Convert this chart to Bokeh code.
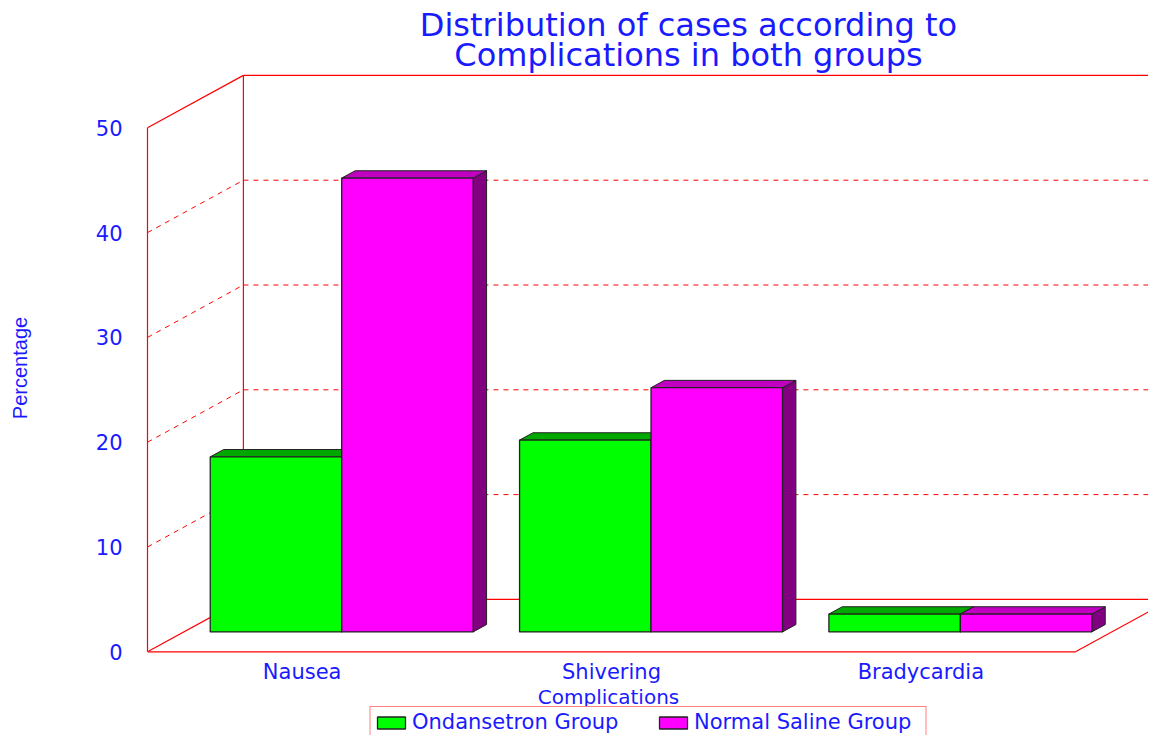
from bokeh.plotting import figure
from bokeh.models import FixedTicker, Legend, LegendItem, Range1d
from bokeh.core.properties import value
from bokeh.embed import file_html
from bokeh.resources import INLINE

# ---------------- data ----------------
categories = ["Nausea", "Shivering", "Bradycardia"]
ondansetron = [16.7, 18.3, 1.7]
normal_saline = [43.3, 23.3, 1.7]
series_names = ["Ondansetron Group", "Normal Saline Group"]
y_ticks = [0, 10, 20, 30, 40, 50]
title_lines = ["Distribution of cases according to", "Complications in both groups"]
x_title = "Complications"
y_title = "Percentage"

# ---------------- layout constants ----------------
W, H = 1148, 735           # fits 1164x751 window with 8px page margin
LEFT = 147                 # frame left (canvas px)
PX_X = 309.33              # px per category
PX_Y = 10.48               # px per percent
ZERO_Y = 651.3             # canvas y of value 0

x_end = (W - LEFT) / PX_X
y_start = -(H - ZERO_Y) / PX_Y
y_end = ZERO_Y / PX_Y

DX, DY = 0.31, 5.0         # depth vector (data units)
F0, F1 = 0.38, 0.52        # bar front / back depth fractions
BAR_W = 0.425
GROUP_OFF = 0.085

RED = "#ff0000"
BLUE = "#1a1aff"
FONT = "DejaVu Sans"


def sx(px):  # canvas pixel x -> data x
    return (px - LEFT) / PX_X


def sy(py):  # canvas pixel y -> data y
    return (ZERO_Y - py) / PX_Y


p = figure(width=W, height=H, title=None,
           x_range=Range1d(0, x_end), y_range=Range1d(y_start, y_end),
           output_backend="svg", toolbar_location=None, x_axis_location=None,
           min_border_left=LEFT, min_border_right=0, min_border_top=0, min_border_bottom=0)
p.xgrid.visible = False
p.ygrid.visible = False
p.outline_line_color = None
p.background_fill_color = "white"

ymax = y_ticks[-1]
ncat = len(categories)
grid_vals = y_ticks[1:-1]
far = x_end + 1

# ---------------- walls ----------------
p.segment(x0=[0] * len(grid_vals), y0=grid_vals,
          x1=[DX] * len(grid_vals), y1=[v + DY for v in grid_vals],
          line_color=RED, line_width=1, line_dash="5 5")
p.segment(x0=[DX] * len(grid_vals), y0=[v + DY for v in grid_vals],
          x1=[far] * len(grid_vals), y1=[v + DY for v in grid_vals],
          line_color=RED, line_width=1, line_dash="5 5")
p.segment(x0=[0, 0, DX, DX, DX, 0, ncat],
          y0=[0, ymax, DY, ymax + DY, DY, 0, 0],
          x1=[DX, DX, DX, far, far, ncat, ncat + DX],
          y1=[DY, ymax + DY, ymax + DY, ymax + DY, DY, 0, DY],
          line_color=RED, line_width=1.2)


# ---------------- 3D bars ----------------
def bar_faces(values, slot):
    fx, fy, tx, ty, kx, ky = [], [], [], [], [], []
    ax, ay = F0 * DX, F0 * DY
    bx, by = F1 * DX, F1 * DY
    for i, v in enumerate(values):
        x0 = i + GROUP_OFF + slot * BAR_W
        x1 = x0 + BAR_W
        fx.append([x0 + ax, x1 + ax, x1 + ax, x0 + ax])
        fy.append([ay, ay, v + ay, v + ay])
        tx.append([x0 + ax, x1 + ax, x1 + bx, x0 + bx])
        ty.append([v + ay, v + ay, v + by, v + by])
        kx.append([x1 + ax, x1 + bx, x1 + bx, x1 + ax])
        ky.append([ay, by, v + by, v + ay])
    return fx, fy, tx, ty, kx, ky


series = [
    (ondansetron, ("#00ff00", "#00a800", "#007a00")),
    (normal_saline, ("#ff00ff", "#c000c0", "#800080")),
]
fronts = []
for slot, (vals, (cf, ct, cs)) in enumerate(series):
    fx, fy, tx, ty, kx, ky = bar_faces(vals, slot)
    p.patches(kx, ky, fill_color=cs, line_color="#222222", line_width=1)
    p.patches(tx, ty, fill_color=ct, line_color="#222222", line_width=1)
    r = p.patches(fx, fy, fill_color=cf, line_color="#222222", line_width=1.3)
    fronts.append(r)

# ---------------- y axis ----------------
yax = p.yaxis[0]
yax.ticker = FixedTicker(ticks=y_ticks)
yax.bounds = (0, ymax)
yax.axis_line_color = RED
yax.axis_line_width = 1.2
yax.major_tick_out = 0
yax.major_tick_in = 0
yax.minor_tick_line_color = None
yax.major_label_text_font = FONT
yax.major_label_text_font_size = "21px"
yax.major_label_text_color = BLUE
yax.major_label_standoff = 25
yax.axis_label = y_title
yax.axis_label_text_font = "Liberation Sans"
yax.axis_label_text_font_style = "normal"
yax.axis_label_text_font_size = "20px"
yax.axis_label_text_color = BLUE
yax.axis_label_standoff = 62

# ---------------- texts ----------------
p.text(x=[i + 0.5 for i in range(ncat)], y=[sy(671)] * ncat, text=categories,
       text_font=value(FONT), text_font_size=value("21px"), text_color=BLUE,
       text_align="center", text_baseline="middle")
p.text(x=[sx(608)], y=[sy(696)], text=[x_title],
       text_font=value(FONT), text_font_size=value("20px"), text_color=BLUE,
       text_align="center", text_baseline="middle")
p.text(x=[sx(688), sx(688)], y=[sy(24), sy(54)], text=title_lines,
       text_font=value(FONT), text_font_size=value("32px"), text_color=BLUE,
       text_align="center", text_baseline="middle")

# ---------------- legend ----------------
legend = Legend(items=[LegendItem(label=n, renderers=[r]) for n, r in zip(series_names, fronts)],
                location="bottom_center", orientation="horizontal",
                margin=-3, padding=3, spacing=15, label_standoff=4,
                label_width=228,
                glyph_width=35, glyph_height=15,
                border_line_color=RED, border_line_width=1.5,
                label_text_font=FONT, label_text_font_size="21px",
                label_text_color=BLUE, background_fill_color="white",
                background_fill_alpha=1.0)
p.add_layout(legend)

open("out.html", "w").write(file_html(p, INLINE))
